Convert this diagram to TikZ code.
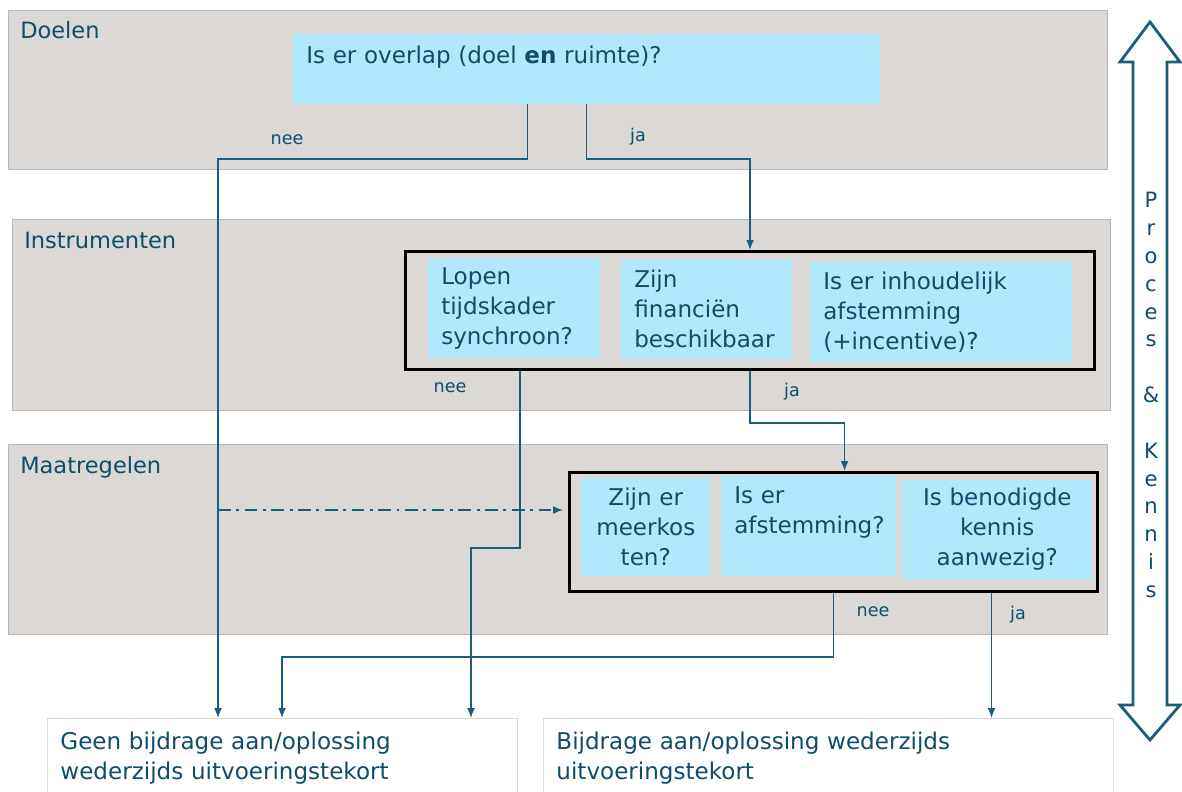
\documentclass[tikz,border=0pt]{standalone}
\usepackage{fontspec}
\setmainfont{DejaVu Sans}
\usepackage{tikz}
\usetikzlibrary{arrows.meta}
\usetikzlibrary{calc}
\definecolor{bandgrijs}{HTML}{DCD8D5}
\definecolor{vraagblauw}{HTML}{B1E8FC}
\definecolor{tekstblauw}{HTML}{0E4E6C}
\definecolor{lijnblauw}{HTML}{1B5E7C}
\newdimen\px \px=0.025cm
\tikzset{band/.style={fill=bandgrijs,draw=black!28,line width=0.6pt}}
\tikzset{band label/.style={text=tekstblauw,font=\fontsize{16}{21}\selectfont,inner sep=0,anchor=base west}}
\tikzset{vraag/.style={fill=vraagblauw,text=tekstblauw,font=\fontsize{16.4}{21.3}\selectfont,inner xsep=13\px,inner ysep=8\px,anchor=north west}}
\tikzset{groep/.style={draw=black,line width=2.2pt,anchor=north west,inner sep=0}}
\tikzset{uitkomst/.style={fill=white,draw=black!15,line width=0.6pt,text=tekstblauw,font=\fontsize{16.4}{21.3}\selectfont,anchor=north west,align=left,inner xsep=13\px,inner ysep=14\px,text depth=75\px}}
\tikzset{tak label/.style={text=tekstblauw,font=\fontsize{12.5}{15}\selectfont,inner sep=0}}
\tikzset{pijl/.style={draw=lijnblauw,line width=1pt,-{Latex[length=7pt,width=5.5pt]}}}

\begin{document}
\begin{tikzpicture}[x=0.025cm,y=-0.025cm]
  \useasboundingbox (0,0) rectangle (1182,791);

  %banden
  \draw[band] (8,10) rectangle (1107,169);
  \draw[band] (12,219) rectangle (1110,410);
  \draw[band] (8,444) rectangle (1107,634);
  \node[band label] (doelen) at (20,38) {Doelen};
  \node[band label] (instrumenten) at (24,248) {Instrumenten};
  \node[band label] (maatregelen) at (20,473) {Maatregelen};

  %vragen
  \node[vraag,minimum width=587\px,text width=561\px,align=left,inner ysep=12\px,text depth=28\px] (overlap) at (293,34) {Is er overlap (doel \textbf{en} ruimte)?};

  \node[groep,minimum width=689\px,minimum height=118\px] (instr) at (404,250) {};
  \node[vraag,minimum width=172\px,minimum height=100\px,text width=146\px,align=left] (tijd) at (428,258) {Lopen\\tijdskader\\synchroon?};
  \node[vraag,minimum width=171\px,minimum height=100\px,text width=145\px,align=left] (fin) at (621,259) {Zijn\\financiën\\beschikbaar};
  \node[vraag,minimum width=262\px,minimum height=100\px,text width=236\px,align=left] (inh) at (810,262) {Is er inhoudelijk\\afstemming\\(+incentive)?};

  \node[groep,minimum width=528\px,minimum height=119\px] (maat) at (568,471) {};
  \node[vraag,minimum width=129\px,minimum height=98\px,text width=103\px,align=center] (meerkos) at (581,478) {Zijn er\\meerkos\\ten?};
  \node[vraag,minimum width=175\px,text width=149\px,align=left,inner ysep=10\px,text depth=63\px] (afst) at (721,476) {Is er\\afstemming?};
  \node[vraag,minimum width=190\px,minimum height=98\px,text width=164\px,align=center] (kennis) at (902,480) {Is benodigde\\kennis\\aanwezig?};

  %uitkomsten
  \node[uitkomst,text width=444\px] (geen) at (47,718) {Geen bijdrage aan/oplossing\\wederzijds uitvoeringstekort};
  \node[uitkomst,text width=544\px] (wel) at (543,718) {Bijdrage aan/oplossing wederzijds\\uitvoeringstekort};

  %pijlen
  \draw[pijl] ($(overlap.south)+(-59,0)$) -- ++(0,55) -| ($(geen.north west)+(171,0)$);
  \draw[pijl] (overlap.south) -- ++(0,55) -| (instr.north);
  \draw[pijl] ($(instr.south)+(-230,0)$) -- ++(0,177) -| ($(geen.north west)+(424,0)$);
  \draw[pijl] (instr.south) -- ++(0,52) -| ($(maat.north)+(11,0)$);
  \coordinate (tak) at (218,510);
  \draw[pijl,dash pattern=on 9pt off 4pt on 2pt off 4pt] (tak) -- ($(tak -| maat.west)+(-5,0)$);
  \draw[pijl] (maat.south) -- ++(0,64) -| ($(geen.north west)+(235,0)$);
  \coordinate (kennisja) at ($(maat.south)+(158,0)$);
  \draw[pijl] (kennisja) -- (kennisja |- wel.north);

  %labels
  \node[tak label] (nee1) at (287,140) {nee};
  \node[tak label] (ja1) at (638,137) {ja};
  \node[tak label] (nee2) at (450,388) {nee};
  \node[tak label] (ja2) at (792,392) {ja};
  \node[tak label] (nee3) at (873,612) {nee};
  \node[tak label] (ja3) at (1018,615) {ja};

  %proces en kennis
  \draw[draw=lijnblauw,fill=white,line width=2pt,line join=miter]
    (1150,22) -- (1180,62) -- (1167,62) -- (1167,705) -- (1180,705) -- (1150,740)
    -- (1120,705) -- (1133,705) -- (1133,62) -- (1120,62) -- cycle;
  \node[text=tekstblauw,font=\fontsize{15}{19.8}\selectfont,align=center,inner sep=0] (proces) at (1151,395)
    {P\\r\\o\\c\\e\\s\\[19.8pt]\&\\[19.8pt]K\\e\\n\\n\\i\\s};

\end{tikzpicture}
\end{document}
